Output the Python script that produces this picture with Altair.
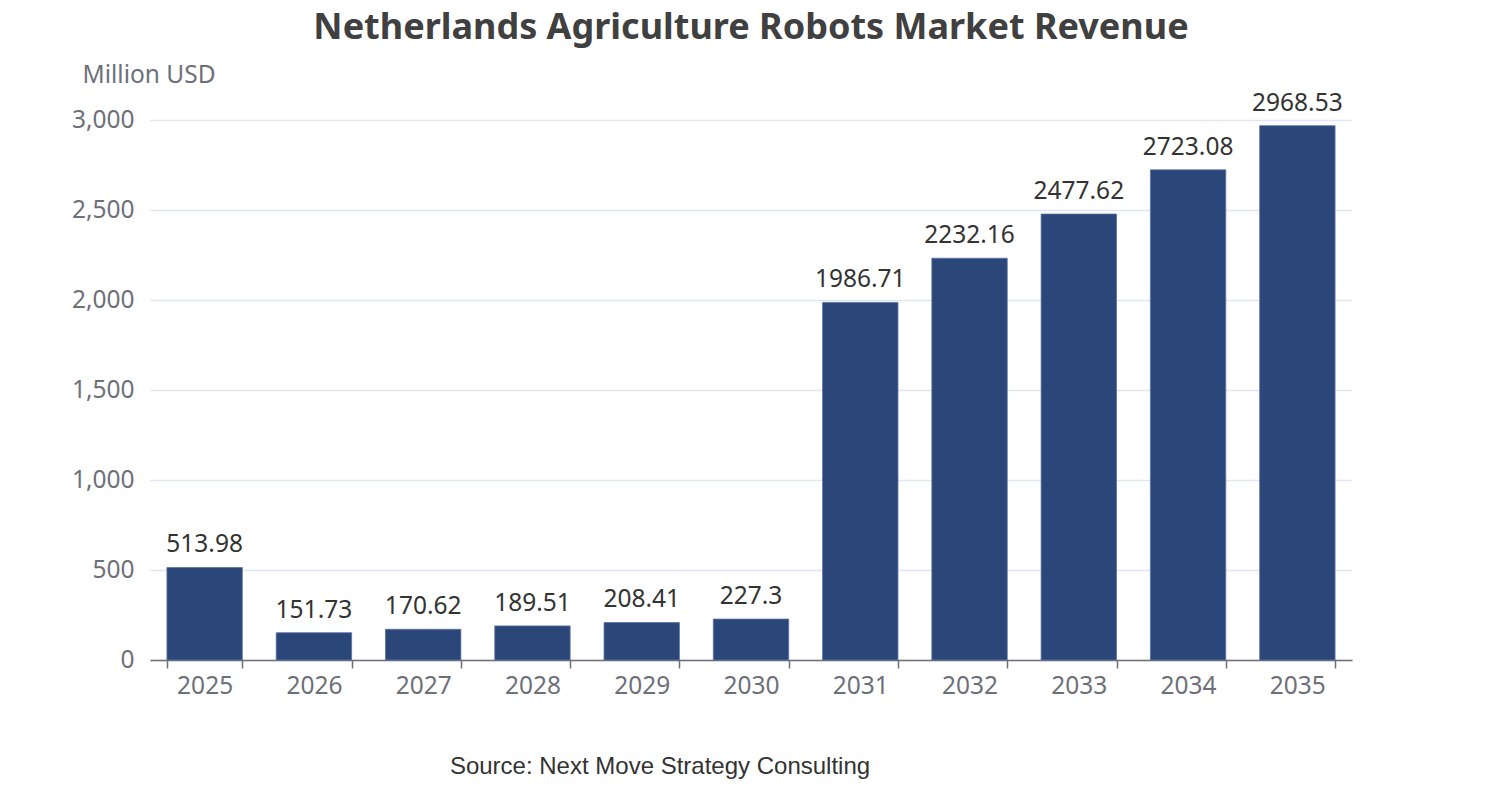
import altair as alt
import pandas as pd

years = ["2025", "2026", "2027", "2028", "2029", "2030", "2031", "2032", "2033", "2034", "2035"]
revenue = [513.98, 151.73, 170.62, 189.51, 208.41, 227.3, 1986.71, 2232.16, 2477.62, 2723.08, 2968.53]
labels = ["513.98", "151.73", "170.62", "189.51", "208.41", "227.3", "1986.71", "2232.16", "2477.62", "2723.08", "2968.53"]

df = pd.DataFrame({"year": years, "revenue": revenue, "label": labels})

FONT = "Noto Sans"
AXIS_COLOR = "#6e7079"

x = alt.X("year:N", sort=years,
          scale=alt.Scale(paddingInner=0.31, paddingOuter=0.155),
          axis=alt.Axis(title=None, labelAngle=0, labelFontSize=24.5, labelColor=AXIS_COLOR,
                        labelFont=FONT, labelPadding=6, tickBand="extent", tickSize=8,
                        tickColor=AXIS_COLOR, domainColor=AXIS_COLOR, domainWidth=1.5,
                        tickWidth=1.5, grid=False))
y = alt.Y("revenue:Q",
          scale=alt.Scale(domain=[0, 3000], nice=False),
          axis=alt.Axis(title="Million USD", titleAngle=0, titleAlign="left", titleBaseline="middle",
                        titleX=-68, titleY=-45, titleFontSize=24.5, titleFontWeight="normal",
                        titleColor=AXIS_COLOR, titleFont=FONT,
                        values=[0, 500, 1000, 1500, 2000, 2500, 3000], format=",.0f",
                        labelFontSize=24.5, labelColor=AXIS_COLOR, labelFont=FONT, labelPadding=16,
                        domain=False, ticks=False, gridColor="#e0e6f1", gridWidth=1.5))

bars = alt.Chart(df).mark_bar(color="#2b4679", stroke="#5c74a0", strokeWidth=0.8).encode(x=x, y=y)

text = alt.Chart(df).mark_text(baseline="bottom", dy=-10, fontSize=24.5, color="#333333", font=FONT).encode(
    x=alt.X("year:N", sort=years), y="revenue:Q", text="label:N")

source = alt.Chart(pd.DataFrame({"t": ["Source: Next Move Strategy Consulting"]})).mark_text(
    fontSize=24, color="#333333", font="Liberation Sans", baseline="middle", align="center"
).encode(x=alt.value(510), y=alt.value(647), text="t:N")

chart = alt.layer(bars, text, source).properties(
    width=1202, height=540,
    autosize=alt.AutoSizeParams(type="none"),
    padding={"left": 142, "top": 112, "right": 140, "bottom": 130},
    title=alt.TitleParams("Netherlands Agriculture Robots Market Revenue", fontSize=36, font=FONT,
                          fontWeight="bold", color="#404040", anchor="middle", offset=15),
).configure_view(stroke=None)

chart.save("out.html", embed_options={"renderer": "svg", "actions": False})
